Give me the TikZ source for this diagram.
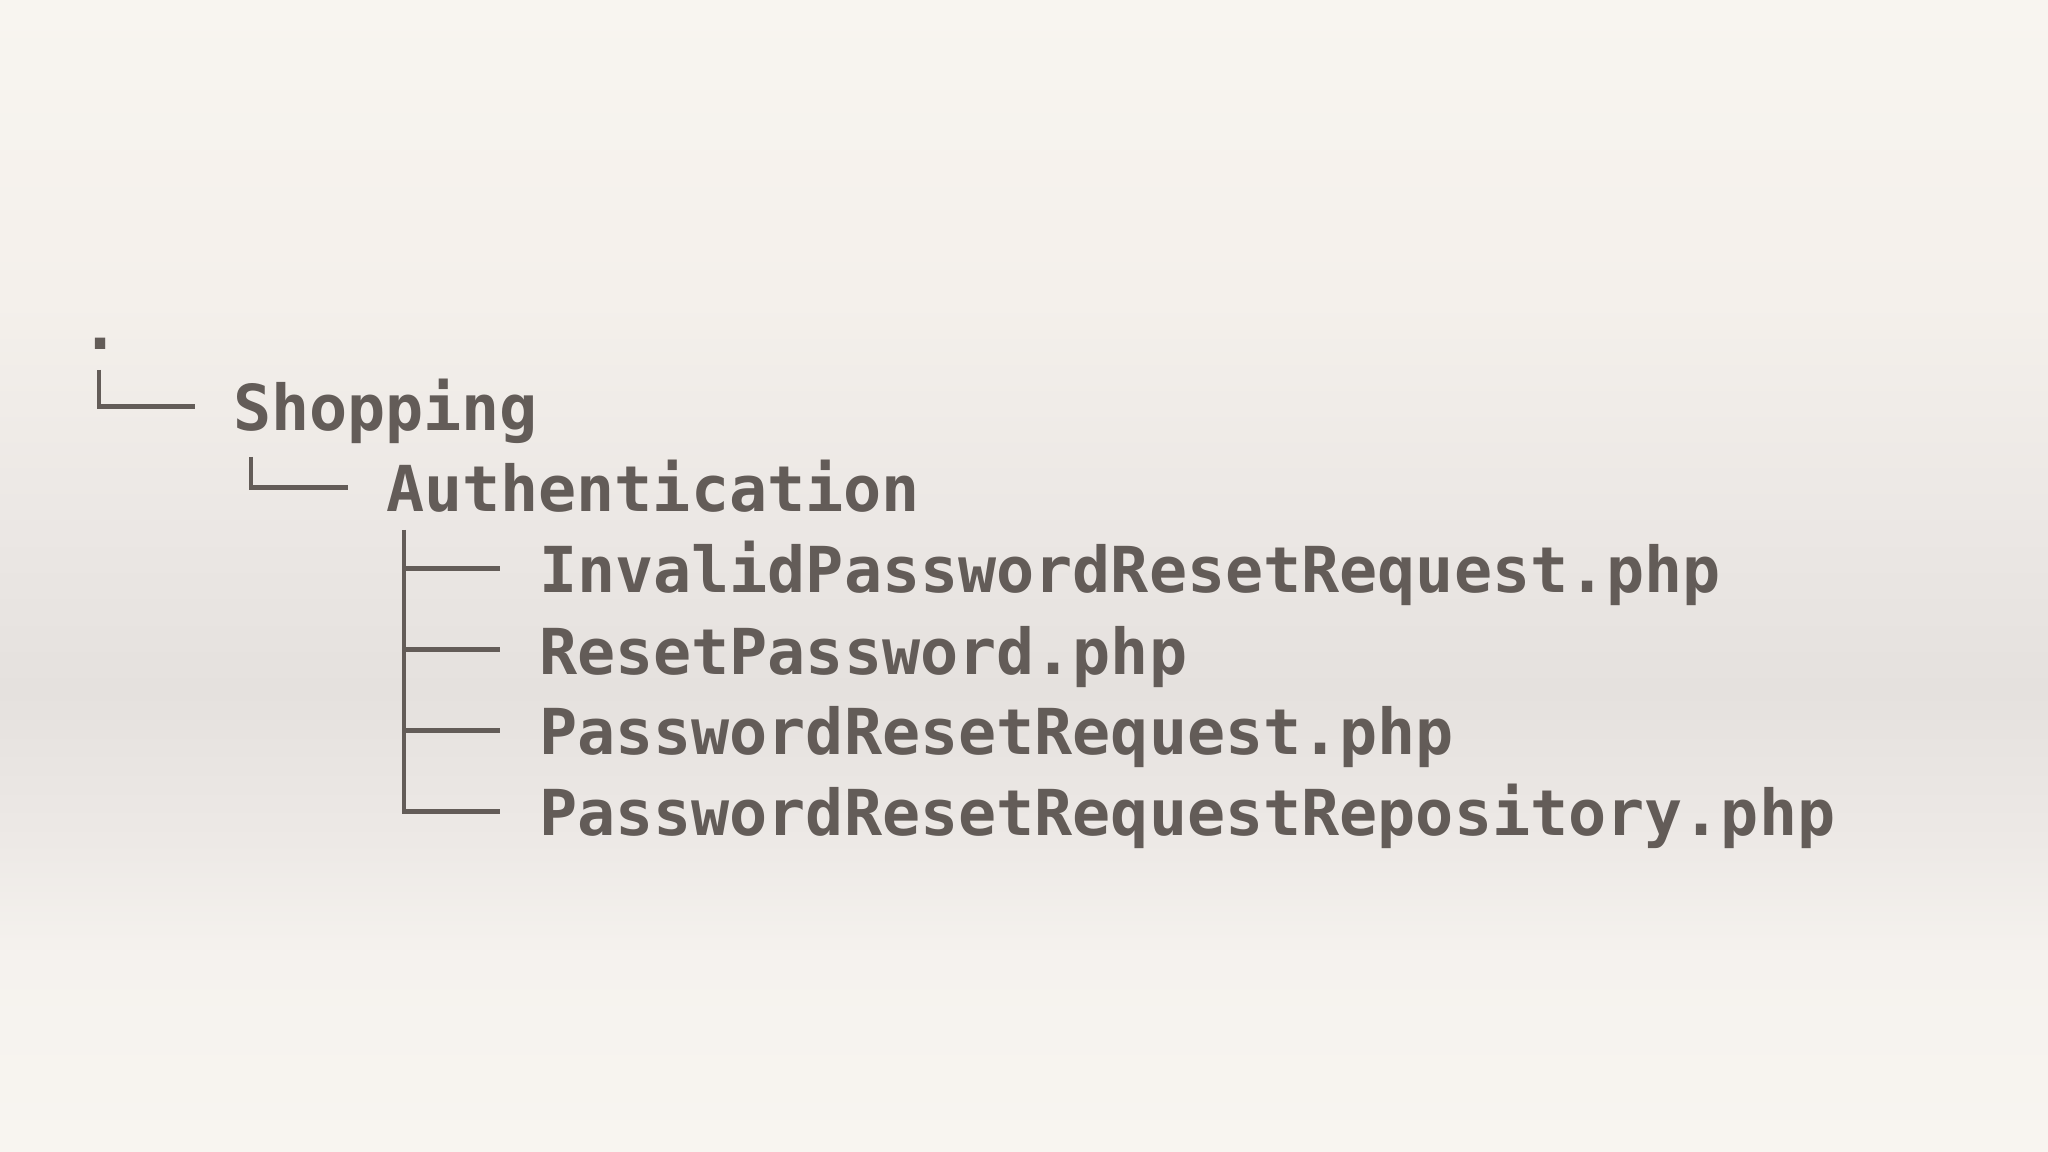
\documentclass[tikz,border=0pt]{standalone}
\usepackage{fontspec}
\setmonofont{DejaVu Sans Mono}
\usetikzlibrary{calc}
\definecolor{ink}{HTML}{635C58}
\definecolor{bgA}{HTML}{F8F5F0}
\definecolor{bgB}{HTML}{F4F0EB}
\definecolor{bgC}{HTML}{ECE8E5}
\definecolor{bgD}{HTML}{E5E1DE}
\definecolor{bgE}{HTML}{EDE9E6}
\definecolor{bgF}{HTML}{F5F2EE}
\pgfdeclareverticalshading{bgshade}{100bp}{
  color(0bp)=(bgA); color(25bp)=(bgA); color(33.5bp)=(bgF); color(38.5bp)=(bgE); color(45bp)=(bgD);
  color(53bp)=(bgC); color(62bp)=(bgB); color(75bp)=(bgA); color(100bp)=(bgA)}
\tikzset{
  entry/.style={anchor=base west, inner sep=0pt, outer sep=0pt, text=ink,
    font=\fontsize{18.02}{20}\selectfont\ttfamily\bfseries},
  tree/.style={draw=ink, line width=0.045cm, line join=miter, line cap=butt}
}
\begin{document}
\begin{tikzpicture}
\shade[shading=bgshade] (0,0) rectangle (20.48,-11.52);
\useasboundingbox (0,0) rectangle (20.48,-11.52);
% columns: x = 0.80 + col*0.38 ; baselines every 0.81
\node[entry] (dot)  at (0.81,-3.50) {.};
\node[entry] (shop) at (2.33,-4.31) {Shopping};
\node[entry] (auth) at (3.86,-5.12) {Authentication};
\node[entry] (f1) at (5.39,-5.93) {InvalidPasswordResetRequest.php};
\node[entry] (f2) at (5.39,-6.74) {ResetPassword.php};
\node[entry] (f3) at (5.39,-7.55) {PasswordResetRequest.php};
\node[entry] (f4) at (5.39,-8.36) {PasswordResetRequestRepository.php};
% connectors
\coordinate (shopE) at ($(shop.base west)+(-0.38,0.245)$);
\coordinate (authE) at ($(auth.base west)+(-0.38,0.245)$);
\draw[tree] ($(dot.base west)+(0.18,-0.20)$) |- (shopE);
\draw[tree] ($(shop.base west)+(0.18,-0.26)$) |- (authE);
\coordinate (trunk) at ($(auth.base west)+(0.18,-0.18)$);
\foreach \f in {f1,f2,f3,f4}{
  \coordinate (\f E) at ($(\f.base west)+(-0.39,0.245)$);
}
\draw[tree] (trunk) |- (f4E);
\foreach \f in {f1,f2,f3}{
  \draw[tree] (trunk |- \f E) -- (\f E);
}
\end{tikzpicture}
\end{document}
